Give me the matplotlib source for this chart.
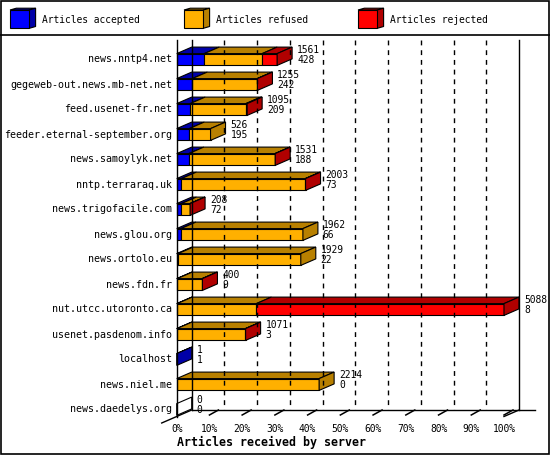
import numpy as np
import matplotlib
matplotlib.use("Agg")
import matplotlib.pyplot as plt
from matplotlib.patches import Polygon, Rectangle

# data
servers = ["news.nntp4.net", "gegeweb-out.news.mb-net.net", "feed.usenet-fr.net",
           "feeder.eternal-september.org", "news.samoylyk.net", "nntp.terraraq.uk",
           "news.trigofacile.com", "news.glou.org", "news.ortolo.eu", "news.fdn.fr",
           "nut.utcc.utoronto.ca", "usenet.pasdenom.info", "localhost", "news.niel.me",
           "news.daedelys.org"]
accepted = [428, 242, 209, 195, 188, 73, 72, 66, 22, 9, 8, 3, 1, 0, 0]
refused = [900, 1010, 866, 331, 1341, 1926, 134, 1896, 1907, 388, 1230, 1066, 0, 2214, 0]
rejected = [233, 3, 20, 0, 2, 4, 2, 0, 0, 3, 3850, 2, 0, 0, 0]
series_names = ["Articles accepted", "Articles refused", "Articles rejected"]
xticks = np.arange(0, 101, 10)

face_cols = ["#0000FF", "#FFB000", "#FF0000"]
dark_cols = ["#0000A8", "#B88000", "#B00000"]
MONO = "DejaVu Sans Mono"

W, H_FIG = 550, 455
fig = plt.figure(figsize=(5.5, 4.55), dpi=100)
fig.patch.set_facecolor("white")

# decoration layer in pixel units
deco = fig.add_axes([0, 0, 1, 1])
deco.set_xlim(0, W)
deco.set_ylim(H_FIG, 0)
deco.axis("off")
deco.add_patch(Rectangle((0.5, 0.5), W - 1.5, H_FIG - 2, fill=False, lw=1.2, ec="black"))
deco.plot([0, W], [35, 35], color="black", lw=1.2)

# legend cubes
leg_x = [10, 184, 358]
for lx, name, fc, dc in zip(leg_x, series_names, face_cols, dark_cols):
    x0, x1, y0, y1 = lx, lx + 19.3, 10, 28.3
    ddx, ddy = 6.3, 1.8
    deco.add_patch(Polygon([(x0, y0), (x1, y0), (x1 + ddx, y0 - ddy), (x0 + ddx, y0 - ddy)],
                           fc=dc, ec="black", lw=0.8))
    deco.add_patch(Polygon([(x1, y0), (x1, y1), (x1 + ddx, y1 - ddy), (x1 + ddx, y0 - ddy)],
                           fc=dc, ec="black", lw=0.8))
    deco.add_patch(Rectangle((x0, y0), x1 - x0, y1 - y0, fc=fc, ec="black", lw=0.8))
    deco.text(x1 + 13, 20, name, fontsize=6.9, family=MONO, va="center", ha="left")

# chart axes: x in percent, y in rows
PXX = 327.3 / 100.0      # pixels per percent
PXY = 25.0               # pixels per row
ROW0 = 59.5              # pixel y of first row centre
left_px, right_px, top_px, bot_px = 176.7, 504.0, 40.0, 416.0
ax = fig.add_axes([left_px / W, 1 - bot_px / H_FIG, (right_px - left_px) / W,
                   (bot_px - top_px) / H_FIG])
ax.set_xlim(0, 100)
ax.set_ylim((bot_px - ROW0) / PXY, (top_px - ROW0) / PXY)
ax.axis("off")

DX = 15.0 / PXX
DY = 6.5 / PXY
HH = 5.9 / PXY
r_top = (top_px - ROW0) / PXY
r_back = (410 - ROW0) / PXY
r_front = r_back + DY

kw = dict(color="black", lw=1.0, clip_on=False)
# back wall and grid
ax.plot([DX, DX], [r_top, r_back], **kw)
ax.plot([100 + DX, 100 + DX], [r_top, r_back], **kw)
for t in xticks[1:-1]:
    ax.plot([t + DX, t + DX], [r_top, r_back], color="black", lw=1.0,
            ls=(0, (3.5, 3.5)), clip_on=False)
# front axis and floor
ax.plot([0, 0], [r_top, r_front], **kw)
ax.plot([DX, 100 + 2 * DX + 0.3], [r_back, r_back], **kw)
ax.plot([-DX, DX], [r_back + 2 * DY, r_back], **kw)
ax.plot([100, 100 + DX], [r_front, r_back], **kw)
for t in xticks[1:]:
    ax.plot([t, t + DX * 0.6], [r_back + 0.2, r_back], color="black", lw=1.1,
            clip_on=False)
    ax.text(t, r_front + 0.48, f"{t}%", fontsize=6.9, family=MONO, ha="center",
            va="center", clip_on=False)
ax.text(0, r_front + 0.48, "0%", fontsize=6.9, family=MONO, ha="center", va="center")
ax.text(0.1, r_front + 1.02, "Articles received by server", fontsize=8.4, family=MONO,
        weight="bold", ha="left", va="center", clip_on=False)

# bars
vals = np.array([accepted, refused, rejected], dtype=float)
totals = vals.sum(axis=0)
scale = 100.0 / totals.max()
for i, name in enumerate(servers):
    r = i
    yt, yb = r - HH, r + HH
    x = 0.0
    last_dark = "white"
    for k in range(3):
        w = vals[k, i] * scale
        if vals[k, i] <= 0:
            continue
        x1 = x + w
        ax.add_patch(Polygon([(x, yt), (x1, yt), (x1 + DX, yt - DY), (x + DX, yt - DY)],
                             fc=dark_cols[k], ec="black", lw=0.8, clip_on=False))
        ax.add_patch(Rectangle((x, yt), w, 2 * HH, fc=face_cols[k], ec="black", lw=0.8,
                               clip_on=False))
        last_dark = dark_cols[k]
        x = x1
    ax.add_patch(Polygon([(x, yt), (x, yb), (x + DX, yb - DY), (x + DX, yt - DY)],
                         fc=last_dark, ec="black", lw=0.8, clip_on=False))
    tx = x + DX + 1.5
    ax.text(tx, r - 0.37, f"{int(totals[i])}", fontsize=6.9, family=MONO, ha="left",
            va="center", clip_on=False)
    ax.text(tx, r + 0.03, f"{accepted[i]}", fontsize=6.9, family=MONO, ha="left",
            va="center", clip_on=False)
    ax.text(-1.3, r, name, fontsize=7.2, family=MONO, ha="right", va="center",
            clip_on=False)

fig.savefig("out.png", dpi=100)
